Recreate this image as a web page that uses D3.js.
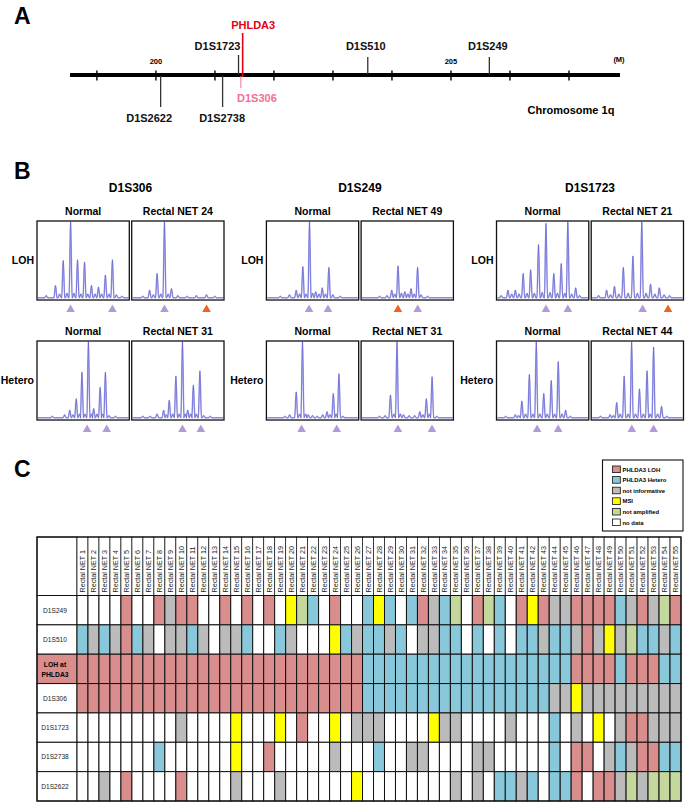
<!DOCTYPE html>
<html><head><meta charset="utf-8">
<script src="https://cdn.jsdelivr.net/npm/d3@7"></script>
<style>
body{margin:0;background:#fff}
svg{display:block}
text{font-family:"Liberation Sans",Arial,Helvetica,sans-serif}
</style>
</head><body>
<svg id="c" width="685" height="803"></svg>
<script>
// ================= DATA =================
// Panel A: chromosome map (Mb)
const mapTicks = [199,200,201,202,203,204,205,206,207];
const mapTickLabels = [200,205];
const markerNames = ["D1S2622","D1S2738","D1S1723","D1S306","PHLDA3","D1S510","D1S249"];
const markerPos   = [200.08, 201.13, 201.40, 201.44, 201.47, 203.59, 205.65];
const markerSide  = ["below","below","above","below","above","above","above"];

// Panel B: electropherograms
const bMarkers = ["D1S306","D1S249","D1S1723"];
const bRowTypes = ["LOH","Hetero"];
const bSamples = [
  [["Normal","Rectal NET 24"],["Normal","Rectal NET 49"],["Normal","Rectal NET 21"]],
  [["Normal","Rectal NET 31"],["Normal","Rectal NET 31"],["Normal","Rectal NET 44"]]
];
// peaks: [relative position, relative height]
const bPeaks = [
 [ // LOH row
  [ [[0.10,0.03],[0.20,0.16],[0.245,0.05],[0.284,0.49],[0.325,0.06],[0.364,1.0],[0.40,0.06],[0.439,0.5],[0.475,0.05],[0.515,0.47],[0.55,0.05],[0.59,0.16],[0.63,0.05],[0.666,0.14],[0.70,0.05],[0.741,0.3],[0.78,0.05],[0.817,0.5],[0.86,0.04],[0.92,0.02]],
    [[0.12,0.02],[0.194,0.1],[0.235,0.04],[0.275,0.32],[0.315,0.05],[0.355,1.0],[0.395,0.05],[0.431,0.12],[0.5,0.03],[0.6,0.02],[0.7,0.03],[0.81,0.04],[0.9,0.02]] ],
  [ [[0.15,0.02],[0.25,0.04],[0.323,0.1],[0.36,0.05],[0.395,0.41],[0.43,0.05],[0.467,1.0],[0.50,0.06],[0.534,0.08],[0.57,0.05],[0.605,0.13],[0.64,0.05],[0.677,0.4],[0.72,0.04],[0.8,0.02]],
    [[0.2,0.02],[0.28,0.03],[0.332,0.1],[0.365,0.05],[0.40,0.42],[0.437,0.06],[0.474,0.08],[0.507,0.05],[0.541,0.12],[0.575,0.05],[0.612,0.4],[0.65,0.04],[0.72,0.02]] ],
  [ [[0.05,0.03],[0.124,0.1],[0.165,0.05],[0.204,0.1],[0.245,0.05],[0.289,0.32],[0.33,0.06],[0.37,0.37],[0.41,0.06],[0.455,0.7],[0.495,0.07],[0.536,0.98],[0.58,0.07],[0.621,0.32],[0.66,0.06],[0.701,0.45],[0.74,0.06],[0.773,1.0],[0.815,0.05],[0.858,0.13],[0.9,0.03]],
    [[0.08,0.03],[0.167,0.1],[0.21,0.04],[0.252,0.15],[0.30,0.05],[0.348,0.4],[0.40,0.06],[0.452,0.55],[0.50,0.06],[0.548,1.0],[0.595,0.06],[0.643,0.18],[0.69,0.05],[0.738,0.13],[0.79,0.04],[0.85,0.03]] ]
 ],
 [ // Hetero row
  [ [[0.166,0.02],[0.3,0.04],[0.355,0.1],[0.39,0.04],[0.425,0.25],[0.46,0.05],[0.487,0.6],[0.52,0.05],[0.557,1.0],[0.59,0.05],[0.614,0.12],[0.65,0.05],[0.684,0.4],[0.71,0.05],[0.741,0.6],[0.78,0.03],[0.85,0.02]],
    [[0.12,0.02],[0.2,0.02],[0.275,0.05],[0.346,0.1],[0.375,0.04],[0.407,0.23],[0.445,0.05],[0.479,0.55],[0.515,0.05],[0.55,1.0],[0.58,0.05],[0.607,0.1],[0.64,0.05],[0.668,0.43],[0.70,0.05],[0.739,0.62],[0.78,0.03],[0.85,0.02]] ],
  [ [[0.2,0.02],[0.252,0.04],[0.323,0.34],[0.36,0.05],[0.391,1.0],[0.425,0.05],[0.453,0.04],[0.5,0.03],[0.55,0.02],[0.61,0.04],[0.657,0.08],[0.69,0.04],[0.725,0.32],[0.755,0.05],[0.786,0.58],[0.83,0.02]],
    [[0.199,0.02],[0.26,0.03],[0.318,0.3],[0.355,0.05],[0.389,1.0],[0.425,0.05],[0.46,0.04],[0.52,0.03],[0.58,0.03],[0.636,0.08],[0.67,0.04],[0.707,0.25],[0.74,0.05],[0.769,0.54],[0.82,0.02]] ],
  [ [[0.1,0.02],[0.204,0.04],[0.24,0.03],[0.275,0.22],[0.315,0.05],[0.356,0.57],[0.395,0.05],[0.431,1.0],[0.47,0.05],[0.512,0.32],[0.55,0.05],[0.593,0.49],[0.63,0.05],[0.669,0.74],[0.71,0.05],[0.749,0.1],[0.8,0.02]],
    [[0.1,0.02],[0.205,0.04],[0.24,0.03],[0.276,0.2],[0.315,0.05],[0.357,0.55],[0.4,0.05],[0.438,1.0],[0.48,0.05],[0.523,0.38],[0.565,0.05],[0.605,0.62],[0.64,0.05],[0.676,0.93],[0.72,0.05],[0.762,0.15],[0.82,0.02]] ]
 ]
];
// allele arrows: [relative position, retained(1)/lost(0)]
const bArrows = [
 [ [ [[0.364,1],[0.817,1]], [[0.355,1],[0.811,0]] ],
   [ [[0.462,1],[0.667,1]], [[0.399,0],[0.613,1]] ],
   [ [[0.536,1],[0.773,1]], [[0.557,1],[0.832,0]] ] ],
 [ [ [[0.543,1],[0.755,1]], [[0.55,1],[0.749,1]] ],
   [ [[0.381,1],[0.762,1]], [[0.399,1],[0.768,1]] ],
   [ [[0.44,1],[0.668,1]],  [[0.44,1],[0.676,1]] ] ]
];

// Panel C: status table
const cRows = ["D1S249","D1S510","LOH at PHLDA3","D1S306","D1S1723","D1S2738","D1S2622"];
const cSampleNumbers = d3.range(1,56);
const cStatus = [
  "WWWWLWWLNLLWWLWLWLWMAHWLWWHMHWHLNHAWLAHWLMLNNLLLLHNLNAL",
  "HNHNLHNWNNHNWNNHWWHNWWWMHNHHNHWNNHHWHWHWHHNHHNLNMNAHHNH",
  "LLLLLLLLLLLLLLLLLLLLLLLLLLHHHHHHHHHHHHHHHHHHHLLLLHLLLHH",
  "LLLLLLLLLLLLLLLLLLLLLLLLLLHHHHHHHHHHHHHHHHHNNMNNNNNNNNN",
  "WWWWWWWWWNWWWWMWWWMWLWWMWNNNWWWWMNNWWWWNWWWHWNWMWNLLNNN",
  "WWWWWWWHWWWWWWMWWLWWWWWNWWWHWWNNWWWWNNWWWWWHWLLWNHNLLHH",
  "WWNWLWWWWLWWWWNWWWNWWWWWWMWWWWWWWWNWNWHHNHWHHLWLLNANAAA"
];
const legendCodes = ["L","H","N","M","A","W"];
const legendNames = ["PHLDA3 LOH","PHLDA3 Hetero","not informative","MSI","not amplified","no data"];

// ================= STYLE / LAYOUT =================
const statusColor = {L:"#d98d8d",H:"#88c8da",N:"#bbbbbb",M:"#ffff00",A:"#c4d79c",W:"#ffffff"};
const svg = d3.select("#c");

// panel letters
[["A",24],["B",179],["C",477]].forEach(([t,y])=>{
  svg.append("text").attr("x",14).attr("y",y).attr("font-size",23).attr("font-weight","bold").text(t);
});

// ---------- Panel A ----------
const xA = d3.scaleLinear().domain([199,207]).range([96.9,569]);
const gA = svg.append("g");
gA.append("line").attr("x1",70).attr("x2",620).attr("y1",75).attr("y2",75)
  .attr("stroke","#000").attr("stroke-width",4.2);
gA.selectAll(".tk").data(mapTicks).enter().append("line")
  .attr("x1",d=>xA(d)).attr("x2",d=>xA(d)).attr("y1",70.5).attr("y2",80.5)
  .attr("stroke","#000").attr("stroke-width",1.4);
gA.selectAll(".tl").data(mapTickLabels).enter().append("text")
  .attr("x",d=>xA(d)).attr("y",64).attr("text-anchor","middle")
  .attr("font-size",7.5).attr("font-weight","bold").text(d=>d);
gA.append("text").attr("x",619).attr("y",62).attr("text-anchor","middle")
  .attr("font-size",7.5).attr("font-weight","bold").text("(M)");
gA.append("text").attr("x",571).attr("y",114).attr("text-anchor","middle")
  .attr("font-size",11).attr("font-weight","bold").text("Chromosome 1q");

const markerLayout = {
  "D1S2622":{y1:76,y2:107,ly:122,dx:-11.5,color:"#333",lc:"#111",w:1.3},
  "D1S2738":{y1:76,y2:107,ly:122,dx:-0.5,color:"#333",lc:"#111",w:1.3},
  "D1S1723":{y1:55,y2:74,ly:50,dx:-21,color:"#333",lc:"#111",w:1.3},
  "D1S306": {y1:76,y2:88,ly:102,dx:16,color:"#f36d9a",lc:"#f36d9a",w:1},
  "PHLDA3": {y1:33,y2:77,ly:29,dx:10.5,color:"#e60012",lc:"#e60012",w:1.6},
  "D1S510": {y1:57,y2:74,ly:50,dx:-2,color:"#333",lc:"#111",w:1.3},
  "D1S249": {y1:57,y2:74,ly:50,dx:-1.5,color:"#333",lc:"#111",w:1.3}
};
markerNames.forEach((n,i)=>{
  const L = markerLayout[n], x = xA(markerPos[i]);
  gA.append("line").attr("x1",x).attr("x2",x).attr("y1",L.y1).attr("y2",L.y2)
    .attr("stroke",L.color).attr("stroke-width",L.w);
  gA.append("text").attr("x",x+L.dx).attr("y",L.ly).attr("text-anchor","middle")
    .attr("font-size",11).attr("font-weight","bold").attr("fill",L.lc).text(n);
});

// ---------- Panel B ----------
const groupX0 = [37, 266.4, 496.5];
const boxW = 92.3, boxGap = 2.4, boxH = 79;
const rowY0 = [221, 341];
const gB = svg.append("g");
bMarkers.forEach((m,gi)=>{
  gB.append("text").attr("x",groupX0[gi]+boxW+boxGap/2).attr("y",192)
    .attr("text-anchor","middle").attr("font-size",12).attr("font-weight","bold").text(m);
});
bRowTypes.forEach((rt,ri)=>{
  const y0 = rowY0[ri];
  bMarkers.forEach((m,gi)=>{
    gB.append("text").attr("x",groupX0[gi]-3).attr("y",y0+boxH/2+3.8)
      .attr("text-anchor","end").attr("font-size",10.5).attr("font-weight","bold").text(rt);
    [0,1].forEach(si=>{
      const bx = groupX0[gi] + si*(boxW+boxGap);
      const xs = d3.scaleLinear().domain([0,1]).range([bx,bx+boxW]);
      const ys = d3.scaleLinear().domain([0,1]).range([y0+boxH-2.2,y0+0.8]);
      gB.append("text").attr("x",xs(0.5)).attr("y",y0-6.5).attr("text-anchor","middle")
        .attr("font-size",10.5).attr("font-weight","bold").text(bSamples[ri][gi][si]);
      // trace
      const pk = bPeaks[ri][gi][si];
      const hw = 0.017;
      const pts = [[0.01,0]];
      pk.forEach(([p,h])=>{ pts.push([p-hw,0],[p,h],[p+hw,0]); });
      pts.push([0.99,0]);
      const line = d3.line().x(d=>xs(d[0])).y(d=>ys(d[1])).curveMonotoneX;
      gB.append("path").attr("d",d3.line().x(d=>xs(d[0])).y(d=>ys(d[1])).curve(d3.curveMonotoneX)(pts))
        .attr("fill","none").attr("stroke","#b9b9ee").attr("stroke-width",1.6);
      gB.append("path").attr("d",d3.line().x(d=>xs(d[0])).y(d=>ys(d[1])).curve(d3.curveMonotoneX)(pts))
        .attr("fill","none").attr("stroke","#4646c8").attr("stroke-width",0.55);
      gB.append("rect").attr("x",bx).attr("y",y0).attr("width",boxW).attr("height",boxH)
        .attr("fill","none").attr("stroke","#111").attr("stroke-width",1.3);
      // arrows
      bArrows[ri][gi][si].forEach(([p,keep])=>{
        const cx = xs(p), cy = y0+boxH+8.3;
        gB.append("path").attr("d",`M${cx-4.3},${cy+3.6}L${cx+4.3},${cy+3.6}L${cx},${cy-3.8}Z`)
          .attr("fill", keep ? "#b29ad6" : "#f2621c");
      });
    });
  });
});

// ---------- Panel C ----------
const xC = d3.scaleBand().domain(cSampleNumbers).range([77,681]);
const yC = d3.scaleBand().domain(cRows).range([595.5,801]);
const headerTop = 537, labelX0 = 37;
const gC = svg.append("g");
// header label cell
gC.append("rect").attr("x",labelX0).attr("y",headerTop).attr("width",77-labelX0)
  .attr("height",595.5-headerTop).attr("fill","#fff").attr("stroke","#111").attr("stroke-width",1);
cSampleNumbers.forEach(n=>{
  gC.append("rect").attr("x",xC(n)).attr("y",headerTop).attr("width",xC.bandwidth())
    .attr("height",595.5-headerTop).attr("fill","#fff").attr("stroke","#222").attr("stroke-width",0.8);
  gC.append("text").attr("transform",`translate(${xC(n)+xC.bandwidth()/2+2.6},592.5) rotate(-90)`)
    .attr("font-size",7.2).attr("fill","#222").text("Rectal NET "+n);
});
cRows.forEach((r,ri)=>{
  const y = yC(r), h = yC.bandwidth();
  const isLoh = r.startsWith("LOH");
  gC.append("rect").attr("x",labelX0).attr("y",y).attr("width",77-labelX0).attr("height",h)
    .attr("fill", isLoh ? statusColor.L : "#fff").attr("stroke","#111").attr("stroke-width",1);
  if (isLoh) {
    gC.append("text").attr("x",55).attr("y",y+h/2-2).attr("text-anchor","middle")
      .attr("font-size",6.8).attr("font-weight","bold").text("LOH at");
    gC.append("text").attr("x",55).attr("y",y+h/2+8.5).attr("text-anchor","middle")
      .attr("font-size",6.8).attr("font-weight","bold").text("PHLDA3");
  } else {
    gC.append("text").attr("x",55).attr("y",y+h/2+2.4).attr("text-anchor","middle")
      .attr("font-size",6.6).attr("fill","#222").text(r);
  }
  cStatus[ri].split("").forEach((code,ci)=>{
    gC.append("rect").attr("x",xC(cSampleNumbers[ci])).attr("y",y)
      .attr("width",xC.bandwidth()).attr("height",h)
      .attr("fill",statusColor[code]).attr("stroke","#111").attr("stroke-width",1);
  });
});
// row separators thicker
gC.append("rect").attr("x",labelX0).attr("y",headerTop).attr("width",681-labelX0)
  .attr("height",801-headerTop).attr("fill","none").attr("stroke","#111").attr("stroke-width",1.2);

// legend
const gL = svg.append("g");
gL.append("rect").attr("x",602.5).attr("y",460).attr("width",80.5).attr("height",71)
  .attr("fill","#fff").attr("stroke","#111").attr("stroke-width",1.1);
legendCodes.forEach((c,i)=>{
  const y = 466 + i*10.6;
  gL.append("rect").attr("x",612.5).attr("y",y).attr("width",7.8).attr("height",6.6)
    .attr("fill",statusColor[c]).attr("stroke","#111").attr("stroke-width",0.8);
  gL.append("text").attr("x",622.5).attr("y",y+5.6).attr("font-size",5.9)
    .attr("font-weight","bold").text(legendNames[i]);
});
</script>
</body></html>
